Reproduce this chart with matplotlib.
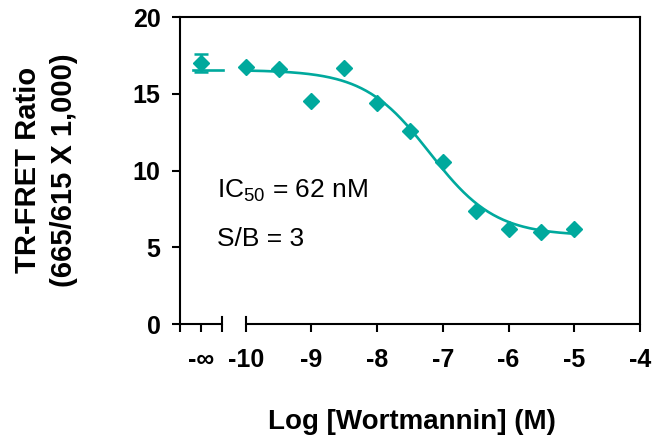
import numpy as np
import matplotlib
matplotlib.use('Agg')
import matplotlib.pyplot as plt

plt.rcParams['font.family'] = ['Liberation Sans', 'DejaVu Sans']

# data
log_conc = [-10, -9.5, -9, -8.5, -8, -7.5, -7, -6.5, -6, -5.5, -5]
ratio = [16.75, 16.6, 14.5, 16.7, 14.4, 12.6, 10.57, 7.36, 6.19, 6.01, 6.17]
zero_ratio = 17.0      # no inhibitor (-inf)
zero_err = 0.6

# 4PL fit parameters
fit_top = 16.55
fit_bottom = 5.75
fit_logic50 = -7.2     # ~62 nM
fit_hill = 0.87

x_inf = -10.68         # where -inf is drawn
x_break = -10.36

teal = '#00A99D'

fig = plt.figure(figsize=(6.54, 4.38), dpi=100)
ax = fig.add_axes([180/654, 114/438, 460/654, 307/438])

xs = np.linspace(-10, -5, 200)
ys = fit_bottom + (fit_top - fit_bottom) / (1 + 10 ** ((xs - fit_logic50) * fit_hill))
ax.plot(xs, ys, color=teal, lw=1.9, zorder=2)
ax.plot([x_inf - 0.12, x_inf + 0.34], [fit_top, fit_top], color=teal, lw=1.9, clip_on=False)

ax.plot(log_conc, ratio, 'D', color=teal, ms=8, zorder=3)
ax.errorbar([x_inf], [zero_ratio], yerr=[zero_err], fmt='D', color=teal, ms=8,
            capsize=5, elinewidth=1.8, capthick=1.8, zorder=3)

ax.set_xlim(-11, -4)
ax.set_ylim(0, 20)
ax.set_yticks([0, 5, 10, 15, 20])
ax.set_xticks([-11, x_inf, x_break, -10, -9, -8, -7, -6, -5, -4])
ax.set_xticklabels(['', '-\u221e', '', '-10', '-9', '-8', '-7', '-6', '-5', '-4'])

for s in ax.spines.values():
    s.set_linewidth(1.5)
ax.spines['bottom'].set_visible(False)
ax.tick_params(direction='out', length=6, width=1.5, labelsize=18)
ax.tick_params(axis='y', pad=8)
ax.tick_params(axis='x', pad=11)
for lab in ax.get_xticklabels() + ax.get_yticklabels():
    lab.set_fontweight('bold')

# broken x axis
tr = ax.get_xaxis_transform()
ax.plot([-11, x_break], [0, 0], color='black', lw=1.5, transform=tr, clip_on=False,
        solid_capstyle='butt')
ax.plot([-10, -4], [0, 0], color='black', lw=1.5, transform=tr, clip_on=False,
        solid_capstyle='butt')
for xb in [x_break, -10]:
    ax.plot([xb, xb], [0, 0.024], color='black', lw=1.5, transform=tr, clip_on=False)

ax.text(-10.44, 8.27, r'IC$_{\mathregular{50}}$ = 62 nM', fontsize=19, va='baseline')
ax.text(-10.44, 5.08, 'S/B = 3', fontsize=19, va='baseline')

ax.set_xlabel('Log [Wortmannin] (M)', fontsize=20, fontweight='bold')
ax.xaxis.set_label_coords(0.505, -0.278)
fig.text(46/654, 1 - 170/438, 'TR-FRET Ratio\n(665/615 X 1,000)', rotation=90,
         ha='center', va='center', multialignment='center', fontsize=21,
         fontweight='bold', linespacing=1.35)

fig.savefig('out.png', dpi=100)
